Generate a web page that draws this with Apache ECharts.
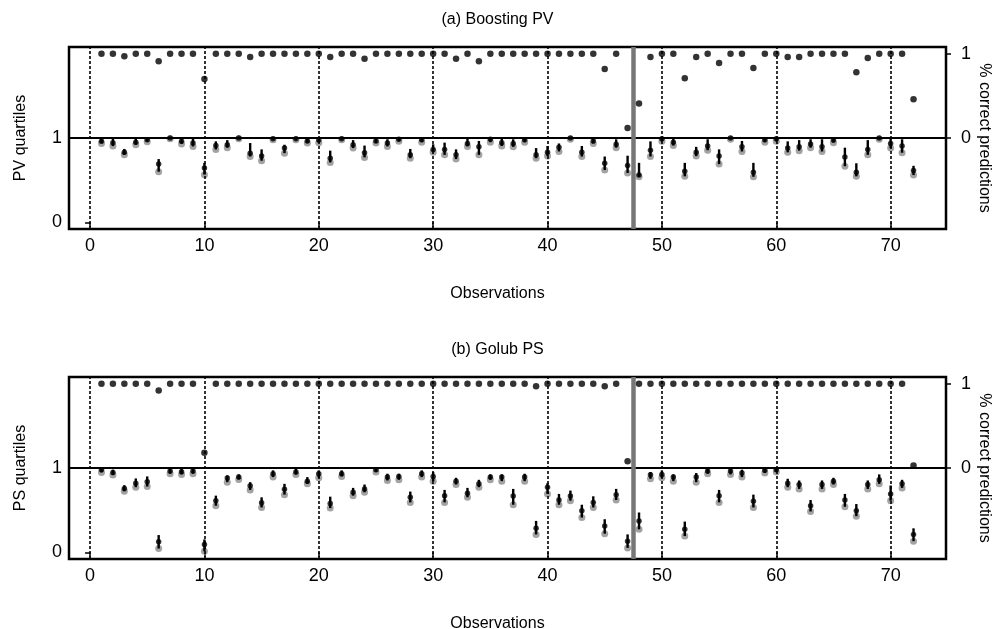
<!DOCTYPE html>
<html><head><meta charset="utf-8">
<script src="https://cdn.jsdelivr.net/npm/echarts@6/dist/echarts.min.js"></script>
<style>html,body{margin:0;padding:0;background:#fff}#c{width:995px;height:629px}</style>
</head><body><div id="c"></div>
<script>
const obs = [1,2,3,4,5,6,7,8,9,10,11,12,13,14,15,16,17,18,19,20,21,22,23,24,25,26,27,28,29,30,31,32,33,34,35,36,
  37,38,39,40,41,42,43,44,45,46,47,48,49,50,51,52,53,54,55,56,57,58,59,60,61,62,63,64,65,66,67,68,69,70,71,72];
const xTicks = [0,10,20,30,40,50,60,70];
const splitAt = 47.5;

// (a) Boosting PV
const pvPct = [1,1,0.97,1,1,0.91,1,1,1,0.70,1,1,1,0.96,1,1,1,1,1,1,0.96,1,1,0.94,1,1,1,1,1,1,1,0.94,1,0.91,1,1,
  1,1,1,1,1,1,1,1,0.82,1,0.12,0.41,0.96,1,1,0.71,0.96,1,0.89,1,1,0.83,1,1,0.96,0.96,1,1,1,1,0.78,0.95,1,1,1,0.46];
const pvLow = [0.936,0.904,0.80,0.92,0.956,0.60,0.99,0.93,0.90,0.565,0.864,0.884,0.99,0.78,0.73,0.98,0.82,0.98,0.94,0.945,0.71,0.98,0.88,0.77,0.94,0.90,0.96,0.76,0.95,0.83,0.80,0.75,0.90,0.80,0.95,0.905,
  0.895,0.95,0.76,0.785,0.84,0.985,0.78,0.935,0.62,0.885,0.585,0.54,0.78,0.96,0.91,0.545,0.785,0.855,0.69,0.985,0.84,0.54,0.95,0.96,0.83,0.85,0.885,0.84,0.945,0.665,0.545,0.80,0.985,0.88,0.825,0.56];
const pvMed = [0.96,0.944,0.83,0.95,0.98,0.69,1,0.96,0.94,0.645,0.91,0.92,1,0.82,0.785,0.99,0.88,0.99,0.965,0.975,0.76,0.99,0.92,0.825,0.965,0.94,0.985,0.80,0.98,0.865,0.865,0.80,0.935,0.895,0.985,0.945,
  0.935,0.98,0.80,0.83,0.89,1,0.83,0.965,0.70,0.925,0.675,0.56,0.855,0.99,0.95,0.605,0.83,0.905,0.785,1,0.895,0.595,0.98,0.99,0.88,0.895,0.93,0.895,0.975,0.775,0.595,0.865,1,0.935,0.905,0.615];
const pvHigh = [0.99,1,0.87,0.99,1,0.75,1,0.99,0.99,0.705,0.96,0.975,1,0.94,0.865,1,0.92,1,0.99,0.99,0.85,1,0.975,0.91,0.99,0.985,1,0.87,1,0.925,0.945,0.865,0.99,0.965,1,0.99,
  0.985,1,0.88,0.905,0.935,1,0.905,1,0.78,0.985,0.79,0.705,0.96,1,0.99,0.705,0.895,0.985,0.865,1,0.965,0.705,1,1,0.96,0.975,0.985,0.985,1,0.885,0.70,0.975,1,1,0.985,0.67];

// (b) Golub PS
const psPct = [1,1,1,1,1,0.92,1,1,1,0.18,1,1,1,1,1,1,1,1,1,1,1,1,1,1,1,1,1,1,1,1,1,1,1,1,1,1,
  1,1,0.97,1,1,1,1,1,0.97,1,0.08,1,1,1,1,1,1,1,1,1,1,1,1,1,1,1,1,1,1,1,1,1,1,1,1,0.03];
const psLow = [0.948,0.916,0.724,0.772,0.78,0.044,0.932,0.924,0.932,0.012,0.552,0.832,0.864,0.74,0.532,0.892,0.684,0.924,0.812,0.884,0.524,0.90,0.672,0.712,0.952,0.852,0.86,0.592,0.892,0.844,0.592,0.804,0.652,0.772,0.86,0.844,
  0.564,0.844,0.212,0.692,0.564,0.612,0.412,0.532,0.22,0.62,0.052,0.272,0.872,0.884,0.844,0.192,0.832,0.932,0.592,0.924,0.892,0.532,0.94,0.952,0.772,0.752,0.484,0.752,0.804,0.54,0.428,0.752,0.812,0.612,0.764,0.132];
const psMed = [0.98,0.948,0.756,0.82,0.836,0.124,0.964,0.956,0.964,0.092,0.612,0.88,0.892,0.788,0.588,0.932,0.748,0.952,0.844,0.932,0.58,0.932,0.712,0.752,0.98,0.892,0.90,0.652,0.932,0.90,0.672,0.844,0.70,0.812,0.892,0.892,
  0.668,0.892,0.284,0.772,0.62,0.668,0.492,0.592,0.312,0.684,0.132,0.372,0.92,0.924,0.892,0.272,0.892,0.964,0.672,0.964,0.94,0.604,0.972,0.98,0.82,0.804,0.552,0.804,0.844,0.62,0.492,0.804,0.86,0.692,0.812,0.212];
const psHigh = [1,0.98,0.796,0.876,0.90,0.204,0.99,0.99,0.99,0.152,0.672,0.912,0.924,0.832,0.652,0.972,0.812,0.99,0.892,0.972,0.66,0.972,0.764,0.804,1,0.932,0.932,0.72,0.972,0.952,0.74,0.884,0.764,0.86,0.924,0.924,
  0.752,0.932,0.372,0.82,0.692,0.732,0.564,0.664,0.392,0.752,0.212,0.472,0.952,0.972,0.924,0.364,0.94,0.99,0.74,0.99,0.98,0.684,0.99,1,0.872,0.852,0.62,0.852,0.884,0.692,0.572,0.852,0.924,0.792,0.86,0.284];

const panels = [
  {title:'(a) Boosting PV', yName:'PV quartiles', pct:pvPct, low:pvLow, med:pvMed, high:pvHigh, top:47},
  {title:'(b) Golub PS', yName:'PS quartiles', pct:psPct, low:psLow, med:psMed, high:psHigh, top:377}
];

const FONT = 'Liberation Sans';
const chart = echarts.init(document.getElementById('c'), null, {renderer:'canvas'});
const option = {
  animation:false, backgroundColor:'#fff',
  textStyle:{fontFamily:FONT, color:'#000'},
  title:[], grid:[], xAxis:[], yAxis:[], series:[]
};
panels.forEach((p, k) => {
  option.title.push({text:p.title, left:'center', top:p.top-40,
    textStyle:{fontFamily:FONT, fontSize:16, fontWeight:'normal', color:'#000'}});
  option.grid.push({left:69, right:49, top:p.top, height:182, show:true, borderColor:'#000', borderWidth:2.5,
    backgroundColor:'transparent', containLabel:false, outerBoundsMode:'none'});
  option.xAxis.push({gridIndex:k, type:'value', min:-1.84, max:74.84,
    axisLine:{show:false}, splitLine:{show:false},
    axisTick:{show:true, customValues:xTicks, length:5, lineStyle:{color:'#000', width:1.5}},
    axisLabel:{customValues:xTicks, fontSize:18, color:'#000', margin:8, fontFamily:FONT},
    name:'Observations', nameLocation:'middle', nameGap:57,
    nameTextStyle:{fontSize:16, color:'#000', fontFamily:FONT, padding:[0,20,0,0]}});
  option.yAxis.push({gridIndex:k, type:'value', position:'left', min:-0.08, max:2.08,
    axisLine:{show:false}, splitLine:{show:false},
    axisTick:{show:true, customValues:[0,1], length:5, lineStyle:{color:'#000', width:1.5}},
    axisLabel:{customValues:[0,1], fontSize:18, color:'#000', margin:7, fontFamily:FONT},
    name:p.yName, nameLocation:'middle', nameGap:40, nameRotate:90,
    nameTextStyle:{fontSize:16, color:'#000', fontFamily:FONT}});
  option.yAxis.push({gridIndex:k, type:'value', position:'right', min:-0.08, max:2.08,
    axisLine:{show:false}, splitLine:{show:false},
    axisTick:{show:true, customValues:[1,2], length:5, lineStyle:{color:'#000', width:1.5}},
    axisLabel:{customValues:[1,2], fontSize:18, color:'#000', margin:15, fontFamily:FONT,
      formatter:v => String(Math.round(v - 1))},
    name:'% correct predictions', nameLocation:'middle', nameGap:30, nameRotate:-90, nameMoveOverlap:false,
    nameTextStyle:{fontSize:16, color:'#000', fontFamily:FONT}});
  const yl = 2*k, xi = k;
  option.series.push({type:'line', xAxisIndex:xi, yAxisIndex:yl, data:[], silent:true, z:1,
    markLine:{silent:true, symbol:'none', label:{show:false}, animation:false,
      data:[
        ...xTicks.map(v => ({xAxis:v, lineStyle:{type:[3,2], width:1.6, color:'#000'}})),
        {yAxis:1, lineStyle:{type:'solid', width:2, color:'#000'}},
        {xAxis:splitAt, lineStyle:{type:'solid', width:4.5, color:'#777'}}
      ]}});
  option.series.push({type:'scatter', xAxisIndex:xi, yAxisIndex:yl+1, symbolSize:6.5, z:5,
    itemStyle:{color:'#000'}, data:obs.map((x,i) => [x, 1 + p.pct[i]])});
  option.series.push({type:'scatter', xAxisIndex:xi, yAxisIndex:yl, symbolSize:7, z:3,
    itemStyle:{color:'#8c8c8c'}, data:obs.map((x,i) => [x, p.low[i]])});
  option.series.push({type:'custom', xAxisIndex:xi, yAxisIndex:yl, z:4,
    renderItem:(params, api) => {
      const a = api.coord([api.value(0), api.value(1)]);
      const b = api.coord([api.value(0), api.value(2)]);
      return {type:'line', shape:{x1:a[0], y1:a[1], x2:b[0], y2:b[1]}, style:{stroke:'#000', lineWidth:2.4}};
    },
    data:obs.map((x,i) => [x, p.low[i], p.high[i]])});
  option.series.push({type:'scatter', xAxisIndex:xi, yAxisIndex:yl, symbolSize:5.5, z:5,
    itemStyle:{color:'#000'}, data:obs.map((x,i) => [x, p.med[i]])});
});
chart.setOption(option);
</script>
</body></html>
